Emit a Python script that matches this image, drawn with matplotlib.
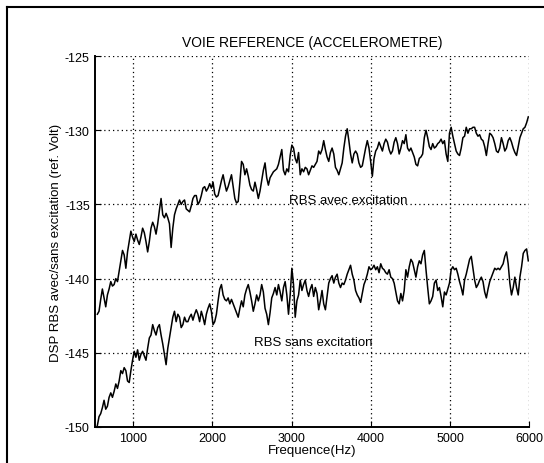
import matplotlib.pyplot as plt
import numpy as np
from matplotlib.lines import Line2D

plt.rcParams["font.family"] = ["Liberation Sans", "DejaVu Sans"]
plt.rcParams["axes.unicode_minus"] = False

# DSP avec excitation (dB ref. Volt)
avec = [
    -142.4, -142.2, -141.4, -140.7, -141.3, -141.9, -141.1, -140.7, -140.2, -140.5,
    -140.4, -140.0, -140.2, -139.5, -138.8, -138.1, -138.4, -139.3, -138.2, -137.5,
    -136.8, -137.2, -137.5, -137.0, -137.4, -137.7, -137.2, -136.6, -136.9, -137.5,
    -138.2, -137.5, -136.6, -136.2, -136.5, -137.0, -136.3, -135.4, -134.6, -135.7,
    -135.9, -135.6, -135.9, -136.3, -137.9, -136.6, -135.7, -135.3, -135.0, -134.7,
    -135.0, -134.8, -134.7, -135.3, -135.4, -135.5, -135.1, -134.6, -134.4, -134.4,
    -135.0, -134.8, -134.4, -133.9, -133.8, -134.1, -133.9, -133.6, -133.9, -133.5,
    -134.3, -134.5, -134.4, -133.9, -133.4, -133.0, -133.6, -134.1, -133.8, -133.4,
    -133.0, -133.8, -134.6, -134.9, -134.8, -133.5, -132.1, -132.3, -133.0, -132.6,
    -133.1, -133.7, -134.0, -134.1, -133.5, -134.0, -134.6, -134.1, -133.4, -132.7,
    -132.2, -133.2, -133.7, -133.2, -133.0, -132.8, -132.7, -132.6, -132.3, -131.8,
    -131.3, -132.7, -133.0, -132.6, -132.8, -131.7, -131.0, -131.2, -131.9, -132.2, -131.5,
    -133.0, -132.6, -132.8, -132.5, -132.6, -133.0, -132.7, -132.4, -132.5, -132.3,
    -132.1, -131.4, -131.6, -131.3, -130.7, -131.3, -131.8, -132.1, -131.5, -131.2,
    -131.6, -132.5, -132.7, -133.0, -132.6, -132.2, -131.2, -130.4, -129.9, -130.7,
    -131.6, -132.2, -131.6, -131.4, -131.6, -132.2, -132.5, -132.4, -131.8, -131.2,
    -130.7, -131.2, -132.1, -133.1, -131.9, -131.4, -131.2, -130.8, -131.1, -131.4,
    -130.9, -130.6, -130.8, -131.3, -131.6, -131.4, -130.8, -130.5, -130.9, -131.6,
    -131.2, -130.7, -130.9,
    -130.3, -131.2, -131.4, -131.2, -131.5, -131.8, -132.3, -132.4, -131.9, -131.8,
    -131.6, -130.5, -130.0, -130.5, -131.1, -131.3, -130.9, -131.2, -131.1, -130.9,
    -130.8, -130.6, -130.9, -130.7, -131.6, -132.1, -130.2, -129.8, -130.4, -130.9,
    -131.4, -131.6, -131.7, -131.2, -130.5, -130.4, -129.8, -130.2, -129.9, -129.9,
    -129.8, -129.8, -130.2, -130.4, -130.3, -130.6, -130.7, -131.1, -131.7, -130.9,
    -130.2, -130.3, -130.5, -130.9, -131.4, -131.5, -131.2, -130.5, -130.9, -131.4,
    -131.2, -130.7, -130.5, -130.8, -131.2, -131.5, -131.7, -131.1, -130.5, -130.2,
    -129.9, -129.8, -129.5, -129.1,
]

# DSP sans excitation
sans = [
    -149.9, -149.3, -149.1, -148.7, -148.2, -148.8, -148.6, -148.0, -147.7, -148.0,
    -147.6, -147.1, -147.4, -146.9, -146.2, -146.4, -146.0, -146.2, -146.9, -147.0,
    -146.2, -145.5, -144.9, -145.3, -144.8, -145.5, -145.1, -144.9, -145.2, -145.5,
    -144.7, -144.0, -143.8, -143.1, -143.5, -143.8, -143.3, -143.1, -143.8, -144.4,
    -145.1, -145.8, -144.7, -144.0, -143.3, -142.6, -142.2, -142.9, -142.4, -142.6,
    -143.3, -143.1, -142.6, -142.9, -142.9, -142.6, -142.4, -142.8, -142.4, -142.1,
    -142.4, -142.9, -142.2, -142.6, -143.1, -142.4, -142.0, -141.7, -142.2, -143.1,
    -142.9, -142.4, -141.5, -140.7, -140.4, -141.1, -141.4, -141.5, -141.3, -141.7,
    -141.4, -141.7, -142.0, -142.3, -142.6, -142.0, -141.5, -141.9, -141.1, -140.7,
    -140.4, -140.9, -141.5, -142.2, -141.7, -141.1, -141.5, -141.1, -140.4, -140.9,
    -142.0, -142.4, -143.1, -142.3, -141.3, -141.0, -140.6, -141.1, -140.4, -140.9,
    -141.5, -140.6, -140.2, -141.1, -142.4, -141.1, -139.3, -140.4, -142.6, -141.5, -141.1,
    -140.1, -140.8, -140.4, -140.1, -140.8, -141.2, -140.7, -140.4, -141.2, -140.6,
    -141.0, -142.1, -141.5, -140.8, -141.7, -142.1, -141.2, -140.3, -140.0, -139.8,
    -140.3, -139.9, -139.7, -140.3, -140.6, -140.3, -140.4, -140.1, -139.7, -139.4,
    -139.1, -139.7, -140.1, -140.8, -141.1, -141.3, -141.6, -141.0, -140.4, -140.1,
    -139.7, -139.2, -139.4, -139.3, -139.1, -139.4, -139.2, -139.6, -139.0, -139.3,
    -139.4, -139.6, -139.7, -139.4, -139.9, -140.0, -140.3, -140.9, -141.5, -141.7,
    -141.0, -141.5, -140.8,
    -139.4, -139.9, -139.2, -138.7, -138.9, -139.4, -139.9, -139.2, -138.8, -139.0,
    -138.4, -138.1, -139.4, -140.6, -141.7, -141.5, -141.2, -140.3, -140.1, -140.8,
    -140.6, -141.2, -141.9, -140.9, -141.1, -140.7, -140.3, -139.4, -139.2, -139.4,
    -139.3, -139.7, -140.2, -140.6, -141.1, -140.1, -139.7, -139.2, -138.7, -138.5,
    -139.3, -140.1, -140.6, -140.4, -140.1, -139.9, -140.2, -140.9, -141.3, -140.7,
    -140.2, -139.9, -139.6, -139.3, -139.4, -139.3, -139.4, -139.2, -139.0, -138.5,
    -138.2, -139.0, -140.3, -141.1, -140.6, -139.9, -140.6, -141.1, -139.9, -139.2,
    -138.3, -138.1, -138.0, -138.8,
]

# uniform frequency bins of the spectrum
freq = np.linspace(550, 5987, len(avec))

xticks = [1000, 2000, 3000, 4000, 5000, 6000]
yticks = [-150, -145, -140, -135, -130, -125]


def plot_dsp():
    fig = plt.figure(figsize=(5.44, 4.64), dpi=100)
    ax = fig.add_axes([0.174, 0.0776, 0.799, 0.7994])

    ax.plot(freq, avec, "-", c="k", lw=1.1)
    ax.plot(freq, sans, "-", c="k", lw=1.1)

    ax.set_xlim(516, 6000)
    ax.set_ylim(-150, -125)
    ax.set_xticks(xticks)
    ax.set_yticks(yticks)
    ax.grid(True, ls=(0, (1, 2.5)), c="k", lw=0.9)
    ax.tick_params(direction="in", length=4, labelsize=9, colors="k")
    for side in ("top", "right"):
        ax.spines[side].set_visible(False)
    for side in ("left", "bottom"):
        ax.spines[side].set_linewidth(1.4)

    ax.set_title("VOIE REFERENCE (ACCELEROMETRE)", fontsize=10, pad=7)
    ax.set_xlabel("Frequence(Hz)", fontsize=9.5, labelpad=0)
    ax.set_ylabel("DSP RBS avec/sans excitation (ref. Volt)", fontsize=9.5, labelpad=2)

    ax.text(3710, -134.7, "RBS avec excitation", fontsize=9.5, ha="center", va="center")
    ax.text(3270, -144.3, "RBS sans excitation", fontsize=9.5, ha="center", va="center")

    # scanned page frame
    fig.add_artist(Line2D([7 / 544, 1], [1 - 8 / 464, 1 - 8 / 464], c="k", lw=1.5,
                          transform=fig.transFigure))
    fig.add_artist(Line2D([7 / 544, 7 / 544], [0, 1 - 8 / 464], c="k", lw=1.5,
                          transform=fig.transFigure))

    fig.savefig("out.png", dpi=100)
    return fig, ax


if __name__ == '__main__':
    plot_dsp()
